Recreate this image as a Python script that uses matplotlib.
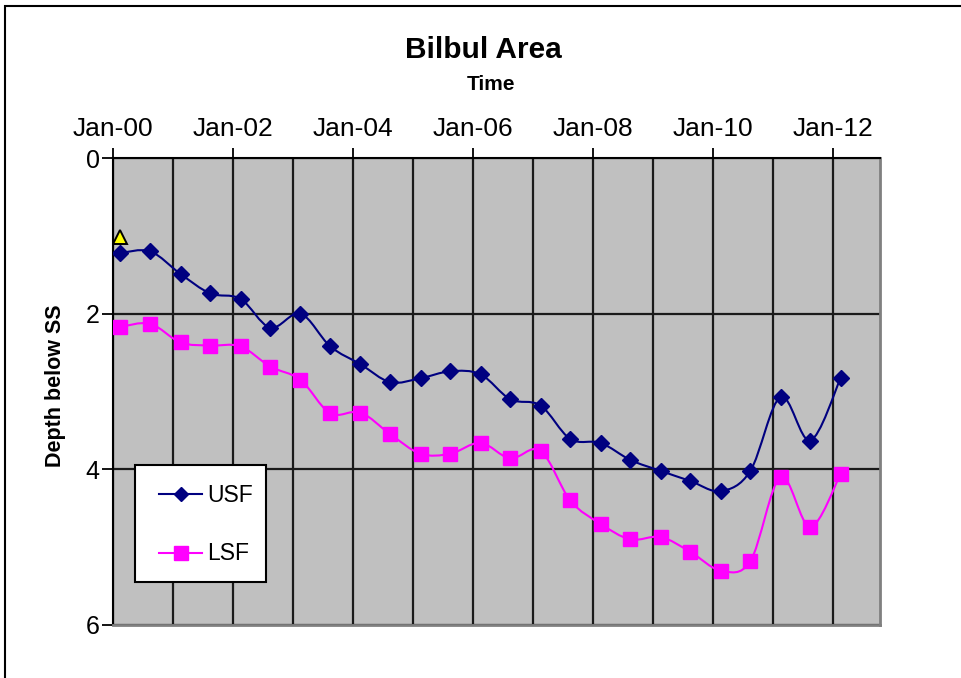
import numpy as np
import pandas as pd
import matplotlib
matplotlib.use('Agg')
import matplotlib.pyplot as plt
import matplotlib.dates as mdates
from matplotlib.path import Path
from matplotlib.patches import PathPatch, Rectangle
from matplotlib.lines import Line2D

plt.rcParams['font.family'] = ['Liberation Sans', 'DejaVu Sans']

# Survey dates (roughly every six months, Feb / Aug)
dates = pd.to_datetime([
    '2000-02-15', '2000-08-15', '2001-02-15', '2001-08-15', '2002-02-15',
    '2002-08-15', '2003-02-15', '2003-08-15', '2004-02-15', '2004-08-15',
    '2005-02-15', '2005-08-15', '2006-02-15', '2006-08-15', '2007-02-15',
    '2007-08-15', '2008-02-15', '2008-08-15', '2009-02-15', '2009-08-15',
    '2010-02-15', '2010-08-15', '2011-02-15', '2011-08-15', '2012-02-15',
])

# Depth below SS
usf = [1.22, 1.20, 1.49, 1.74, 1.81, 2.18, 2.00, 2.42, 2.65, 2.88,
       2.83, 2.74, 2.78, 3.10, 3.18, 3.61, 3.66, 3.88, 4.02, 4.15,
       4.28, 4.02, 3.07, 3.63, 2.83]
lsf = [2.17, 2.13, 2.37, 2.41, 2.42, 2.68, 2.85, 3.28, 3.27, 3.55,
       3.80, 3.80, 3.66, 3.86, 3.76, 4.40, 4.70, 4.90, 4.87, 5.06,
       5.30, 5.18, 4.10, 4.74, 4.06]

# single marker above first USF point
tri_date = pd.to_datetime(['2000-02-15'])
tri_depth = [1.02]

USF_COLOR = '#000080'
LSF_COLOR = '#FF00FF'

W, H = 961, 678


def px(x, y):
    """pixel position (from top-left) -> figure fraction"""
    return x / W, 1 - y / H


def smooth_path(x, y):
    """Excel-like smoothed line: cubic Bezier through every point."""
    x = np.asarray(x, dtype=float)
    y = np.asarray(y, dtype=float)
    n = len(x)
    verts = [(x[0], y[0])]
    codes = [Path.MOVETO]
    for i in range(n - 1):
        i0 = max(i - 1, 0)
        i3 = min(i + 2, n - 1)
        c1 = (x[i] + (x[i + 1] - x[i0]) / 6, y[i] + (y[i + 1] - y[i0]) / 6)
        c2 = (x[i + 1] - (x[i3] - x[i]) / 6, y[i + 1] - (y[i3] - y[i]) / 6)
        verts += [c1, c2, (x[i + 1], y[i + 1])]
        codes += [Path.CURVE4] * 3
    return Path(verts, codes)


fig = plt.figure(figsize=(W / 100, H / 100), dpi=100)
ax = fig.add_axes([113 / W, 1 - 625 / H, (880 - 113) / W, (625 - 158) / H])
ax.set_facecolor('#C0C0C0')

xnum = mdates.date2num(dates)

ax.add_patch(PathPatch(smooth_path(xnum, usf), fill=False, edgecolor=USF_COLOR, lw=1.5, zorder=3))
ax.add_patch(PathPatch(smooth_path(xnum, lsf), fill=False, edgecolor=LSF_COLOR, lw=1.5, zorder=3))
ax.plot(dates, usf, ls='none', marker='D', ms=8.5, color=USF_COLOR, zorder=4)
ax.plot(dates, lsf, ls='none', marker='s', ms=10.5, color=LSF_COLOR, zorder=4)
ax.plot(tri_date, tri_depth, ls='none', marker='^', ms=10, mfc='#FFFF00', mec='black', mew=1.4, zorder=4)

# axes
ax.set_xlim(pd.Timestamp('2000-01-01'), pd.Timestamp('2012-10-12'))
ax.set_ylim(6, 0)
ax.set_yticks([0, 2, 4, 6])
ax.xaxis.set_major_locator(mdates.YearLocator(2))
ax.xaxis.set_minor_locator(mdates.YearLocator(1))
ax.xaxis.set_major_formatter(mdates.DateFormatter('%b-%y'))
ax.xaxis.tick_top()
ax.tick_params(axis='x', which='major', direction='out', length=7, width=1.3,
               labelsize=19, pad=5.5)
ax.tick_params(axis='x', which='minor', length=0)
ax.tick_params(axis='y', direction='out', length=8, width=1.3, labelsize=18, pad=1.5)

ax.grid(True, axis='x', which='both', color='#1a1a1a', lw=1.6)
ax.grid(True, axis='y', which='major', color='#1a1a1a', lw=1.6)
ax.set_axisbelow(True)

for side in ['left', 'top']:
    ax.spines[side].set_color('black')
    ax.spines[side].set_linewidth(1.5)
for side in ['right', 'bottom']:
    ax.spines[side].set_color('#808080')
    ax.spines[side].set_linewidth(2)

# titles
fig.text(*px(483, 50), 'Bilbul Area', ha='center', va='center',
         fontsize=21.5, fontweight='bold')
fig.text(*px(491, 85), 'Time', ha='center', va='center',
         fontsize=15, fontweight='bold')
fig.text(*px(56, 386), 'Depth below SS', ha='center', va='center',
         rotation=90, fontsize=15.5, fontweight='bold')

# legend box (drawn by hand to match the Excel layout)
x0, y0 = px(135, 582)
x1, y1 = px(266, 465)
ax.add_patch(Rectangle((x0, y0), x1 - x0, y1 - y0, transform=fig.transFigure,
                       facecolor='white', edgecolor='black', lw=1.5,
                       zorder=6, clip_on=False))
legend_items = [('USF', USF_COLOR, 'D', 7.5, 494),
                ('LSF', LSF_COLOR, 's', 10, 553)]
for label, color, marker, ms, ypix in legend_items:
    xa, ya = px(159, ypix)
    xb, _ = px(202, ypix)
    xm, _ = px(180.5, ypix)
    ax.add_line(Line2D([xa, xb], [ya, ya], color=color, lw=1.5,
                       transform=fig.transFigure, zorder=7, clip_on=False))
    ax.add_line(Line2D([xm], [ya], color=color, marker=marker, ms=ms, ls='none',
                       transform=fig.transFigure, zorder=7, clip_on=False))
    xt, yt = px(207, ypix + 1)
    ax.text(xt, yt, label, transform=fig.transFigure, ha='left', va='center',
            fontsize=16.5, zorder=7)

# outer chart border
fig.patches.append(Rectangle((5 / W, -0.1), 1.2, 1 - 6 / H + 0.1,
                             transform=fig.transFigure, fill=False,
                             edgecolor='black', lw=1.5))

fig.savefig('out.png', dpi=100)
